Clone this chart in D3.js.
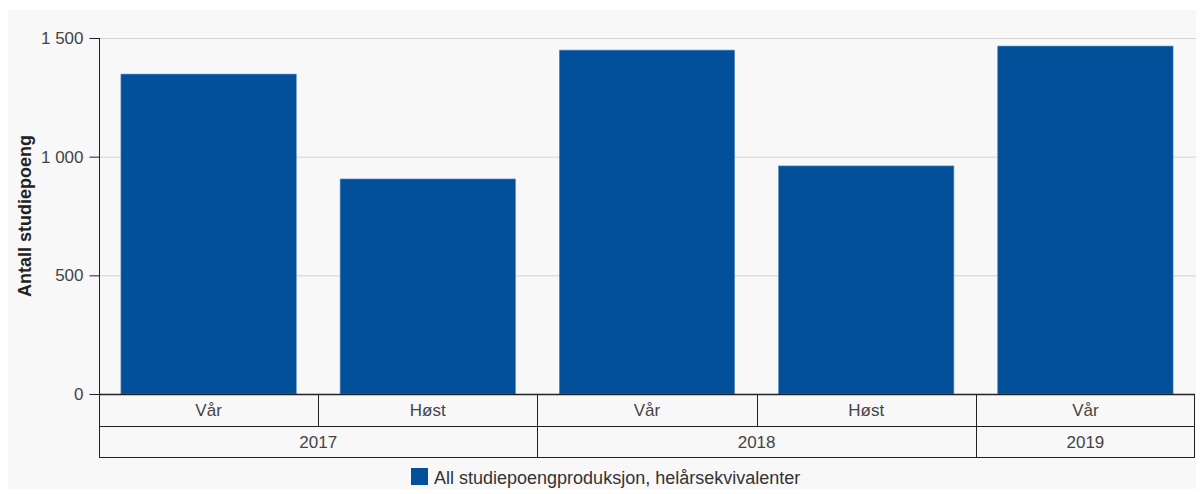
<!DOCTYPE html>
<html>
<head>
<meta charset="utf-8">
<script src="https://cdn.jsdelivr.net/npm/d3@7"></script>
<style>
  body { margin: 0; background: #fff; }
  text { font-family: "Liberation Sans", Arial, sans-serif; }
</style>
</head>
<body>
<svg width="1201" height="494"></svg>
<script>
const WIDTH = 1201
const HEIGHT = 494

// data
const terms = ["Vår", "Høst", "Vår", "Høst", "Vår"]
const years = ["2017", "2017", "2018", "2018", "2019"]
const values = [1348, 906, 1449, 961, 1466]
const yTicks = [0, 500, 1000, 1500]
const seriesName = "All studiepoengproduksjon, helårsekvivalenter"

const BAR_COLOR = "#02509a"
const FONT = 17
const margin = { left: 99, right: 6, top: 38, bottom: 100 }

const svg = d3.select("svg")

svg.append("rect")
    .attr("x", 8).attr("y", 10)
    .attr("width", 1188).attr("height", 479)
    .attr("fill", "#f8f8f8")

const x = d3.scaleBand()
    .domain(d3.range(values.length))
    .range([margin.left, WIDTH - margin.right])
    .paddingInner(0.2)
    .paddingOuter(0.1)

const y = d3.scaleLinear()
    .domain([0, 1500])
    .range([394, 38])

const fmt = d => d3.format(",")(d).replace(",", " ")

let chart = svg.append("g")

// gridlines
chart.selectAll("line.grid")
    .data(yTicks.filter(d => d > 0))
    .enter().append("line")
    .attr("x1", margin.left).attr("x2", WIDTH - margin.right + 1)
    .attr("y1", d => y(d) + 0.5).attr("y2", d => y(d) + 0.5)
    .attr("stroke", "#d3d3d3")

// bars
chart.selectAll("rect.bar")
    .data(values)
    .enter().append("rect")
    .attr("x", (d, i) => x(i))
    .attr("y", d => y(d))
    .attr("width", x.bandwidth())
    .attr("height", d => y(0) - y(d))
    .attr("fill", BAR_COLOR)
    .attr("stroke", "#5d8cc0")
    .attr("stroke-width", 0.6)

// y axis
const yAxis = chart.append("g")
    .attr("transform", "translate(" + (margin.left + 0.5) + ",0)")
    .call(d3.axisLeft(y).tickValues(yTicks).tickFormat(fmt).tickSize(10).tickPadding(6))
yAxis.select(".domain").attr("stroke", "#222").attr("d", "M0," + y(1500) + "V" + y(0))
yAxis.selectAll(".tick line").attr("stroke", "#222")
yAxis.selectAll(".tick text")
    .attr("font-size", FONT).attr("fill", "#444")
    .attr("font-family", "Liberation Sans, Arial, sans-serif")

svg.append("text")
    .attr("transform", "translate(31,216) rotate(-90)")
    .attr("text-anchor", "middle")
    .attr("font-size", 18).attr("font-weight", "bold").attr("fill", "#222")
    .text("Antall studiepoeng")

// category table
const x0 = margin.left, x1 = WIDTH - margin.right
const table = svg.append("g").attr("stroke", "#222").attr("fill", "none")

table.append("rect")
    .attr("x", x0 + 0.5).attr("y", 394.5)
    .attr("width", x1 - x0 - 1).attr("height", 63)
table.append("line")
    .attr("x1", x0).attr("x2", x1)
    .attr("y1", 426.5).attr("y2", 426.5)
table.append("line")
    .attr("x1", x0).attr("x2", x1)
    .attr("y1", 394.5).attr("y2", 394.5)
    .attr("stroke-width", 1.5)

// term cells
terms.forEach((t, i) => {
    const cx = x(i) - x.step() * x.paddingInner() / 2
    if (i > 0) {
        table.append("line")
            .attr("x1", Math.round(cx) + 0.5).attr("x2", Math.round(cx) + 0.5)
            .attr("y1", 394).attr("y2", 426)
    }
    svg.append("text")
        .attr("x", x(i) + x.bandwidth() / 2).attr("y", 416)
        .attr("text-anchor", "middle")
        .attr("font-size", FONT).attr("fill", "#444")
        .text(t)
})

// year cells
const yearGroups = d3.groups(d3.range(years.length), i => years[i])
yearGroups.forEach(([yr, idx], gi) => {
    const left = x(idx[0]) - x.step() * x.paddingInner() / 2
    const right = x(idx[idx.length - 1]) + x.bandwidth() + x.step() * x.paddingInner() / 2
    if (gi > 0) {
        table.append("line")
            .attr("x1", Math.round(left) + 0.5).attr("x2", Math.round(left) + 0.5)
            .attr("y1", 426).attr("y2", 458)
    }
    svg.append("text")
        .attr("x", (Math.max(left, x0) + Math.min(right, x1)) / 2).attr("y", 448)
        .attr("text-anchor", "middle")
        .attr("font-size", FONT).attr("fill", "#444")
        .text(yr)
})

// legend
const legend = svg.append("g").attr("transform", "translate(411,468)")
legend.append("rect")
    .attr("width", 17).attr("height", 17)
    .attr("fill", BAR_COLOR)
legend.append("text")
    .attr("x", 23).attr("y", 16)
    .attr("font-size", 18).attr("fill", "#333")
    .text(seriesName)
</script>
</body>
</html>
